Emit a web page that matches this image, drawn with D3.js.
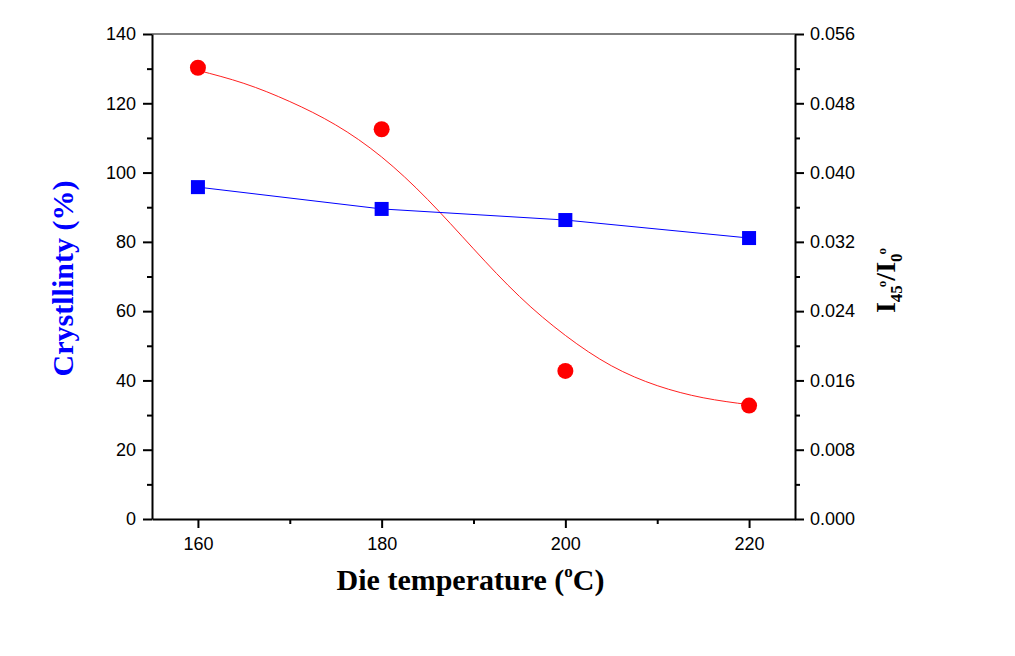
<!DOCTYPE html>
<html><head><meta charset="utf-8">
<script src="https://cdn.jsdelivr.net/npm/d3@7"></script>
<style>body{margin:0;background:#fff}svg{display:block}</style>
</head><body>
<svg id="c" width="1015" height="656"></svg>
<script>
const temps = [160, 180, 200, 220];
const crystallinity = [95.8, 89.5, 86.3, 81.1];
const ratio = [0.0521, 0.0450, 0.0171, 0.0131];
const fitX = [160, 165, 170, 175, 180, 185, 190, 195, 200, 205, 210, 215, 220];
const fitY = [0.0518, 0.0503, 0.0482, 0.0455, 0.0418, 0.0369, 0.0312, 0.0257, 0.0212, 0.0177, 0.0154, 0.0140, 0.0132];
const xTicks = [160, 180, 200, 220];
const xMinor = [170, 190, 210];
const yLeftTicks = [0, 20, 40, 60, 80, 100, 120, 140];
const yLeftMinor = [10, 30, 50, 70, 90, 110, 130];
const yRightTicks = [0, 0.008, 0.016, 0.024, 0.032, 0.040, 0.048, 0.056];
const yRightMinor = [0.004, 0.012, 0.020, 0.028, 0.036, 0.044, 0.052];

const L = 152, R = 795, T = 34, B = 519;
const svg = d3.select("#c");
const x = d3.scaleLinear().domain([155, 225]).range([L, R]);
const yL = d3.scaleLinear().domain([0, 140]).range([B, T]);
const yR = d3.scaleLinear().domain([0, 0.056]).range([B, T]);

const tickFont = "Liberation Sans, Arial, sans-serif";
const titleFont = "Liberation Serif, Times New Roman, serif";

function styleAxis(g){
  g.selectAll("path").attr("stroke","#000").attr("stroke-width",2);
  g.selectAll("line").attr("stroke","#000").attr("stroke-width",2);
  g.selectAll("text").attr("font-family",tickFont).attr("font-size",18).attr("fill","#000");
}
svg.append("line").attr("x1",L).attr("x2",R).attr("y1",T).attr("y2",T).attr("stroke","#000").attr("stroke-width",1);

const gx = svg.append("g").attr("transform",`translate(0,${B})`)
  .call(d3.axisBottom(x).tickValues(xTicks).tickSize(9).tickSizeOuter(0).tickPadding(9).tickFormat(d3.format("d")));
styleAxis(gx);
svg.append("g").attr("transform",`translate(0,${B})`)
  .call(d3.axisBottom(x).tickValues(xMinor).tickSize(5).tickSizeOuter(0).tickFormat(""))
  .call(g=>{g.select("path").remove(); g.selectAll("line").attr("stroke","#000").attr("stroke-width",2);});

const gl = svg.append("g").attr("transform",`translate(${L},0)`)
  .call(d3.axisLeft(yL).tickValues(yLeftTicks).tickSize(9).tickSizeOuter(0).tickPadding(7).tickFormat(d3.format("d")));
styleAxis(gl);
svg.append("g").attr("transform",`translate(${L},0)`)
  .call(d3.axisLeft(yL).tickValues(yLeftMinor).tickSize(5).tickFormat(""))
  .call(g=>{g.select("path").remove(); g.selectAll("line").attr("stroke","#000").attr("stroke-width",2);});

const gr = svg.append("g").attr("transform",`translate(${R},0)`)
  .call(d3.axisRight(yR).tickValues(yRightTicks).tickSize(9).tickSizeOuter(0).tickPadding(6).tickFormat(d3.format(".3f")));
styleAxis(gr);
svg.append("g").attr("transform",`translate(${R},0)`)
  .call(d3.axisRight(yR).tickValues(yRightMinor).tickSize(5).tickFormat(""))
  .call(g=>{g.select("path").remove(); g.selectAll("line").attr("stroke","#000").attr("stroke-width",2);});

const fit = fitX.map((d,i)=>[d,fitY[i]]);
svg.append("path").datum(fit)
  .attr("d", d3.line().x(d=>x(d[0])).y(d=>yR(d[1])).curve(d3.curveNatural))
  .attr("fill","none").attr("stroke","#ff2020").attr("stroke-width",1);

const blue = temps.map((d,i)=>[d,crystallinity[i]]);
svg.append("path").datum(blue)
  .attr("d", d3.line().x(d=>x(d[0])).y(d=>yL(d[1])))
  .attr("fill","none").attr("stroke","#0000ff").attr("stroke-width",1);

svg.selectAll(".sq").data(blue).enter().append("rect")
  .attr("x",d=>x(d[0])-7).attr("y",d=>yL(d[1])-7).attr("width",14).attr("height",14).attr("fill","#0000ff");

const red = temps.map((d,i)=>[d,ratio[i]]);
svg.selectAll(".ci").data(red).enter().append("circle")
  .attr("cx",d=>x(d[0])).attr("cy",d=>yR(d[1])).attr("r",8).attr("fill","#ff0000");

const xt = svg.append("text").attr("x",(L+R)/2-3).attr("y",590).attr("text-anchor","middle")
  .attr("font-family",titleFont).attr("font-weight","bold").attr("font-size",30).attr("fill","#000");
xt.append("tspan").text("Die temperature (");
xt.append("tspan").attr("font-size",17).attr("dy",-13).text("o");
xt.append("tspan").attr("dy",13).text("C)");

svg.append("text").attr("transform",`translate(73,${(T+B)/2+2}) rotate(-90)`).attr("text-anchor","middle")
  .attr("font-family",titleFont).attr("font-weight","bold").attr("font-size",30).attr("fill","#0000ff")
  .text("Crystllinty (%)");

const rt = svg.append("text").attr("transform",`translate(895,${(T+B)/2+4}) rotate(-90)`).attr("text-anchor","middle")
  .attr("font-family",titleFont).attr("font-weight","bold").attr("font-size",28).attr("fill","#000");
rt.append("tspan").text("I");
rt.append("tspan").attr("font-size",17).attr("dy",7).text("45");
rt.append("tspan").attr("font-size",13).attr("dx",-2).attr("dy",-16).text("o");
rt.append("tspan").attr("dy",9).text("/I");
rt.append("tspan").attr("font-size",17).attr("dy",7).text("0");
rt.append("tspan").attr("font-size",13).attr("dx",-1).attr("dy",-16).text("o");
</script>
</body></html>
